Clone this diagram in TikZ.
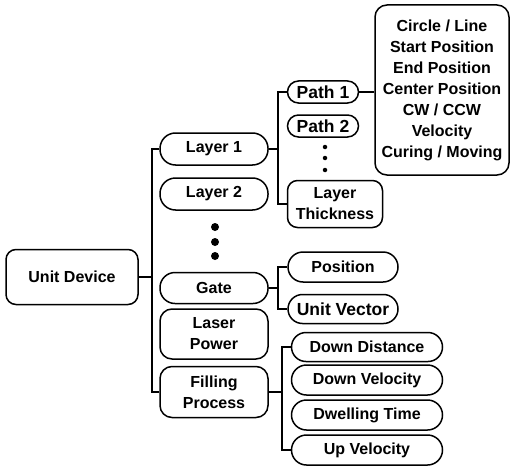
\documentclass[tikz,border=0pt]{standalone}
\usepackage{fontspec}
\setmainfont{Liberation Sans}
\begin{document}
\begin{tikzpicture}[x=1pt,y=-1pt,
  every node/.style={font=\bfseries\fontsize{16}{21}\selectfont, inner sep=0pt, align=center},
  pill/.style={draw, line width=1.5pt, rounded corners=#1},
  pill/.default=15pt,
  bigtext/.style={font=\bfseries\fontsize{17.5}{21}\selectfont},
  link/.style={line width=1.5pt},
  bigdot/.style={fill=black, circle, minimum size=8pt},
  smalldot/.style={fill=black, circle, minimum size=4.5pt}]
\useasboundingbox (0,0) rectangle (510,468);

% root
\node[pill=10pt, minimum width=132pt, minimum height=55pt] (unit) at (72,277) {Unit Device};

% first level
\node[pill=15.5pt, minimum width=108pt, minimum height=32pt] (layer1) at (214,149) {Layer 1};
\node[pill=15.5pt, minimum width=108pt, minimum height=32pt] (layer2) at (214,194) {Layer 2};
\node[bigdot] (d1) at (215,227) {};
\node[bigdot] (d2) at (215,242) {};
\node[bigdot] (d3) at (215,256) {};
\node[pill=15pt, minimum width=108pt, minimum height=31pt] (gate) at (214,288) {Gate};
\node[pill=12pt, minimum width=108pt, minimum height=50pt] (laser) at (214,334) {Laser\\Power};
\node[pill=12pt, minimum width=108pt, minimum height=51pt] (fill) at (214,392) {Filling\\Process};

% layer branch
\node[pill=11pt, bigtext, minimum width=71pt, minimum height=22pt] (path1) at (323,92) {Path 1};
\node[pill=11pt, bigtext, minimum width=71pt, minimum height=22pt] (path2) at (323,126) {Path 2};
\node[smalldot] (s1) at (325,147) {};
\node[smalldot] (s2) at (325,158) {};
\node[smalldot] (s3) at (325,170) {};
\node[pill=10pt, minimum width=95pt, minimum height=47pt] (thick) at (335,204) {Layer\\Thickness};
\node[pill=12pt, minimum width=134pt, minimum height=170pt] (attr) at (442,90)
  {Circle / Line\\Start Position\\End Position\\Center Position\\CW / CCW\\Velocity\\Curing / Moving};

% gate branch
\node[pill=15pt, minimum width=110pt, minimum height=30pt] (pos) at (343,267) {Position};
\node[pill=14.5pt, bigtext, minimum width=110pt, minimum height=29pt] (uvec) at (343,309) {Unit Vector};

% filling branch
\node[pill=14.5pt, minimum width=151pt, minimum height=29pt] (dd) at (367,347) {Down Distance};
\node[pill=15pt, minimum width=151pt, minimum height=30pt] (dv) at (367,380) {Down Velocity};
\node[pill=15pt, minimum width=151pt, minimum height=30pt] (dt) at (367,415) {Dwelling Time};
\node[pill=15pt, minimum width=151pt, minimum height=30pt] (uv) at (367,450) {Up Velocity};

% connectors
\coordinate (t0) at (152,0);
\draw[link] (unit.east) -- (unit.east -| t0);
\draw[link] (layer1.west) -- (layer1.west -| t0) -- (fill.west -| t0) -- (fill.west);

\coordinate (t1) at (278,0);
\draw[link] (layer1.east) -- (layer1.east -| t1);
\draw[link] (path1.west) -- (path1.west -| t1) -- (thick.west -| t1) -- (thick.west);
\draw[link] (path1.east) -- (path1.east -| attr.west);

\draw[link] (gate.east) -- (gate.east -| t1);
\draw[link] (pos.west) -- (pos.west -| t1) -- (uvec.west -| t1) -- (uvec.west);

\coordinate (t2) at (282,0);
\draw[link] (fill.east) -- (fill.east -| t2);
\draw[link] (dd.west) -- (dd.west -| t2) -- (uv.west -| t2) -- (uv.west);
\end{tikzpicture}
\end{document}
